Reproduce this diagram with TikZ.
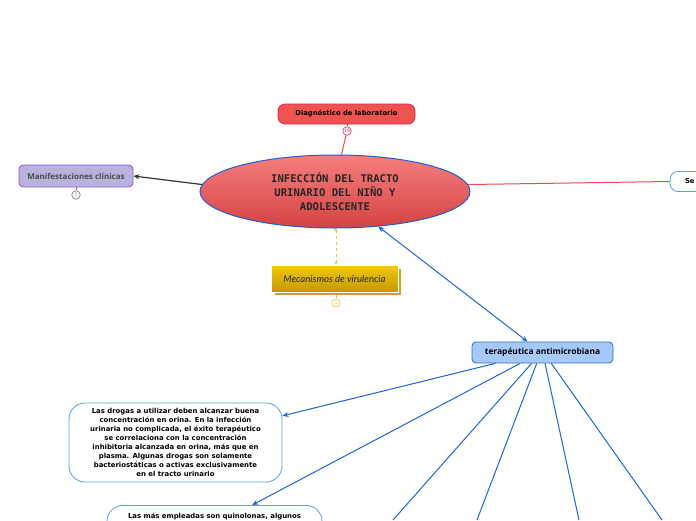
\documentclass[tikz,border=0pt]{standalone}
\usepackage{fontspec}
\setmainfont{DejaVu Sans}
\newfontfamily\titlefont{DejaVu Sans Mono}
\newfontfamily\osfont{Open Sans}
\newfontfamily\latofont{Lato}
\usetikzlibrary{shapes.geometric,arrows.meta,shadows}
\definecolor{blueline}{HTML}{1A66D6}
\definecolor{redline}{HTML}{E84B4B}
\definecolor{diagfill}{HTML}{EF5350}
\definecolor{diagdraw}{HTML}{E0245A}
\definecolor{manfill}{HTML}{B8B3DC}
\definecolor{mandraw}{HTML}{9C4DDD}
\definecolor{elltop}{HTML}{F57E7E}
\definecolor{ellbot}{HTML}{D64242}
\definecolor{elldraw}{HTML}{1F5FD0}
\definecolor{mectop}{HTML}{F4C90E}
\definecolor{mecbot}{HTML}{C29800}
\definecolor{mecshadow}{HTML}{C9A22A}
\definecolor{terfill}{HTML}{A6C8FA}
\definecolor{terdraw}{HTML}{2B6FD6}
\definecolor{boxdraw}{HTML}{4FA3E8}
\definecolor{grayline}{HTML}{333333}
\definecolor{yelline}{HTML}{F2C230}
\tikzset{
  badge/.style={circle,draw=#1,fill=white,line width=0.6pt,minimum size=8.5pt,inner sep=0pt,font=\fontsize{4.5}{5}\selectfont,text=#1},
  topic/.style={rounded corners=4pt,line width=0.8pt,inner sep=0pt,align=center},
  textbox/.style={rounded corners=16pt,draw=boxdraw,fill=white,line width=0.8pt,align=center,inner sep=0pt,font=\bfseries\fontsize{6.9}{8.9}\selectfont},
  bline/.style={draw=blueline,line width=1pt},
}
\begin{document}
\begin{tikzpicture}[x=1pt,y=-1pt]
\useasboundingbox (0,0) rectangle (696,520);
% central
\node[ellipse,draw=elldraw,line width=1pt,top color=elltop,bottom color=ellbot,minimum width=270pt,minimum height=73pt,inner sep=0pt,align=center,font=\titlefont\bfseries\fontsize{10.6}{14}\selectfont,text=black!85] (ell) at (335,191.5) {INFECCIÓN DEL TRACTO\\URINARIO DEL NIÑO Y\\ADOLESCENTE};
% diagnostico
\node[topic,draw=diagdraw,fill=diagfill,minimum width=137pt,minimum height=20pt,rounded corners=7pt,font=\bfseries\fontsize{6.8}{8}\selectfont] (diag) at (346.5,114) {Diagnóstico de laboratorio};
\node[badge=diagdraw] (b19) at (347,131) {19};
\draw[redline,line width=1pt] (diag.south -| b19) -- (b19);
\draw[redline,line width=1pt] (b19) -- (ell.80);
% manifestaciones
\node[topic,draw=mandraw,fill=manfill,minimum width=114pt,minimum height=22pt,font=\osfont\bfseries\fontsize{8}{9}\selectfont,text=black!70] (man) at (76,176) {Manifestaciones clínicas};
\node[badge=black!55] (b7) at (76,195) {7};
\draw[black!55,line width=0.6pt] (man.south) -- (b7);
\draw[grayline,line width=1.2pt,-{Stealth[length=6pt,width=5pt]}] (ell.177) -- (man.east);
% right box
\node[topic,draw=boxdraw,fill=white,rounded corners=8pt,minimum width=60pt,minimum height=20pt,text width=30pt,align=left,font=\bfseries\fontsize{6.8}{8}\selectfont] (se) at (700,181.5) {Se};
\draw[redline,line width=1pt] (ell.3) -- (se.west);
% mecanismos
\node[draw=white,line width=0.8pt,top color=mectop,bottom color=mecbot,minimum width=127pt,minimum height=27pt,inner sep=0pt,font=\latofont\itshape\fontsize{9.6}{11}\selectfont,text=black!85,
  copy shadow={shadow xshift=3pt,shadow yshift=-3pt,fill=mecshadow,draw=white,top color=mecshadow,bottom color=mecshadow}] (mec) at (334.5,278.5) {Mecanismos de virulencia};
\node[badge=yelline] (b1) at (336,303) {1};
\draw[yelline,line width=0.8pt] (mec.south -| b1) ++(0,3) -- (b1);
\draw[yelline,line width=1pt,dashed,{Stealth[length=3pt,width=3pt]}-{Stealth[length=3pt,width=3pt]}] (ell.south -| b1) -- (mec.north -| b1);
% terapeutica
\node[topic,draw=terdraw,fill=terfill,minimum width=141pt,minimum height=21pt,font=\osfont\bfseries\fontsize{8.4}{10}\selectfont] (ter) at (542.5,352.5) {terapéutica antimicrobiana};
\draw[bline,{Stealth[length=6pt,width=5pt]}-{Stealth[length=6pt,width=5pt]}] (ell.-39) -- (ter.144);
% text boxes
\node[textbox,minimum width=213pt,minimum height=79pt] (t1) at (175.5,442.5) {Las drogas a utilizar deben alcanzar buena\\concentración en orina. En la infección\\urinaria no complicada, el éxito terapéutico\\se correlaciona con la concentración\\inhibitoria alcanzada en orina, más que en\\plasma. Algunas drogas son solamente\\bacteriostáticas o activas exclusivamente\\en el tracto urinario};
\draw[bline,-{Stealth[length=6pt,width=5pt]}] (ter.193) -- (t1.14);
\node[textbox,minimum width=215pt,minimum height=80pt,anchor=north] (t2) at (214.5,505) {};
\node[font=\bfseries\fontsize{6.9}{8.9}\selectfont,anchor=north] (t2txt) at (214.5,509) {Las más empleadas son quinolonas, algunos};
\draw[bline,-{Stealth[length=6pt,width=5pt]}] (ter.206) -- (t2.47);
% lines to bottom
\coordinate (e1) at (393,520);
\coordinate (e2) at (477,520);
\coordinate (e3) at (579,520);
\coordinate (e4) at (662,520);
\draw[bline] (ter.225) -- (e1);
\draw[bline] (ter.242) -- (e2);
\draw[bline] (ter.283) -- (e3);
\draw[bline] (ter.309) -- (e4);
\end{tikzpicture}
\end{document}
